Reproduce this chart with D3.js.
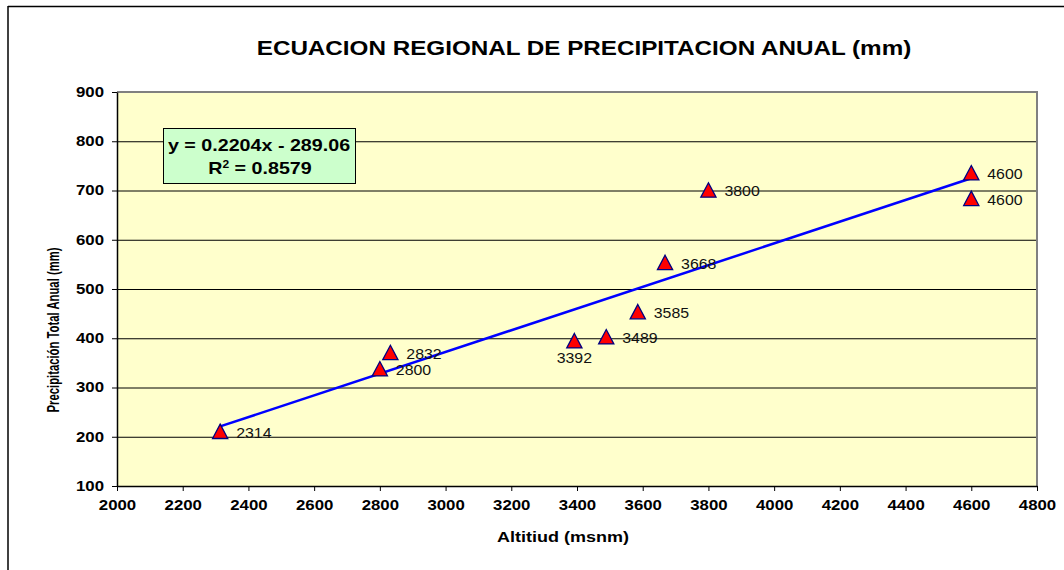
<!DOCTYPE html>
<html>
<head>
<meta charset="utf-8">
<script src="https://cdn.jsdelivr.net/npm/d3@7"></script>
<style>
  body { margin: 0; background: #fff; }
  svg { display: block; font-family: "Liberation Sans", Arial, sans-serif; }
</style>
</head>
<body>
<svg id="chart" width="1064" height="570"></svg>
<script>
// chart data
const altitudes = [2314, 2800, 2832, 3392, 3489, 3585, 3668, 3800, 4600, 4600];
const precipitation = [208, 335, 368, 392, 400, 451, 551, 698, 733, 681];
const xTicks = [2000, 2200, 2400, 2600, 2800, 3000, 3200, 3400, 3600, 3800, 4000, 4200, 4400, 4600, 4800];
const yTicks = [100, 200, 300, 400, 500, 600, 700, 800, 900];
const slope = 0.2204, intercept = -289.06, r2 = 0.8579;

const title = 'ECUACION REGIONAL DE PRECIPITACION ANUAL (mm)';
const xTitle = 'Altitiud (msnm)';
const yTitle = 'Precipitación Total Anual (mm)';

// the original picture is stretched sideways, so text gets widened too
const SX = 1.2;

const svg = d3.select('#chart');
const plot = {left: 117, right: 1037, top: 92, bottom: 486};

const x = d3.scaleLinear().domain([2000, 4800]).range([plot.left, plot.right]);
const y = d3.scaleLinear().domain([100, 900]).range([plot.bottom, plot.top]);

// outer frame (only top and left show)
svg.append('line').attr('x1', 8).attr('x2', 1064).attr('y1', 6.5).attr('y2', 6.5)
  .attr('stroke', '#000').attr('stroke-width', 1.5);
svg.append('line').attr('x1', 8).attr('x2', 8).attr('y1', 6).attr('y2', 570)
  .attr('stroke', '#000').attr('stroke-width', 1.5);

// plot background
svg.append('rect')
  .attr('x', plot.left).attr('y', plot.top)
  .attr('width', plot.right - plot.left).attr('height', plot.bottom - plot.top)
  .attr('fill', '#ffffcc');

// gridlines
svg.append('g').selectAll('line')
  .data(yTicks.filter(d => d > 100 && d < 900))
  .join('line')
  .attr('x1', plot.left).attr('x2', plot.right)
  .attr('y1', d => y(d) + 0.5).attr('y2', d => y(d) + 0.5)
  .attr('stroke', '#000').attr('stroke-width', 1);

// top and right border in grey
svg.append('path')
  .attr('d', `M${plot.left},${plot.top}H${plot.right}V${plot.bottom}`)
  .attr('fill', 'none').attr('stroke', '#808080').attr('stroke-width', 2);

// axes
const xAxis = svg.append('g')
  .attr('transform', `translate(0,${plot.bottom})`)
  .call(d3.axisBottom(x).tickValues(xTicks).tickFormat(d3.format('d')).tickSize(5).tickSizeOuter(0));
const yAxis = svg.append('g')
  .attr('transform', `translate(${plot.left},0)`)
  .call(d3.axisLeft(y).tickValues(yTicks).tickFormat(d3.format('d')).tickSize(5).tickSizeOuter(0));

[xAxis, yAxis].forEach(a => {
  a.select('.domain').attr('stroke', '#000').attr('stroke-width', 1.5);
  a.selectAll('.tick line').attr('stroke', '#000');
  a.selectAll('.tick text')
    .attr('fill', '#000')
    .style('font-family', '"Liberation Sans", Arial, sans-serif')
    .style('font-size', '14px')
    .style('font-weight', 'bold');
});
xAxis.selectAll('.tick text').attr('y', 14.5).attr('transform', `scale(${SX},1)`);
yAxis.selectAll('.tick text').attr('x', -13 / SX).attr('transform', `scale(${SX},1)`);

// titles
function stretchedText(px, py, str, size, weight, rotate) {
  return svg.append('text')
    .attr('transform', `translate(${px},${py}) scale(${SX},1)` + (rotate ? ` rotate(${rotate})` : ''))
    .attr('text-anchor', 'middle')
    .style('font-size', size + 'px')
    .style('font-weight', weight)
    .attr('fill', '#000')
    .text(str);
}
stretchedText(584, 54.5, title, 20.2, 'bold');
stretchedText(563, 542, xTitle, 15, 'bold');
stretchedText(59, 330, yTitle, 14, 'bold', -90)
  .attr('textLength', 165).attr('lengthAdjust', 'spacingAndGlyphs');

// trend line
const trendX = d3.extent(altitudes);
svg.append('line')
  .attr('x1', x(trendX[0])).attr('y1', y(slope * trendX[0] + intercept))
  .attr('x2', x(trendX[1])).attr('y2', y(slope * trendX[1] + intercept))
  .attr('stroke', '#0000ff').attr('stroke-width', 2.5);

// markers
const points = altitudes.map((a, i) => ({alt: a, p: precipitation[i]}));
const tri = 'M0,-8.7L7.6,5.7L-7.6,5.7Z';
svg.append('g').selectAll('path')
  .data(points)
  .join('path')
  .attr('d', tri)
  .attr('transform', d => `translate(${x(d.alt)},${y(d.p)})`)
  .attr('fill', '#ff0000')
  .attr('stroke', '#000080')
  .attr('stroke-width', 1.3);

// point labels (altitude)
svg.append('g').selectAll('text')
  .data(points)
  .join('text')
  .attr('transform', d => d.alt === 3392
    ? `translate(${x(d.alt)},${y(d.p) + 20.5}) scale(1.06,1)`
    : `translate(${x(d.alt) + 16},${y(d.p) + 5}) scale(1.06,1)`)
  .attr('text-anchor', d => d.alt === 3392 ? 'middle' : 'start')
  .style('font-size', '15px')
  .attr('fill', '#111')
  .text(d => d.alt);

// equation box
const eq = svg.append('g');
eq.append('rect')
  .attr('x', 163.5).attr('y', 128.5).attr('width', 192).attr('height', 55)
  .attr('fill', '#ccffcc').attr('stroke', '#000').attr('stroke-width', 1);
eq.append('text')
  .attr('transform', `translate(259,151) scale(${SX},1)`)
  .attr('text-anchor', 'middle')
  .style('font-size', '16.4px').style('font-weight', 'bold')
  .text(`y = ${slope}x - ${Math.abs(intercept).toFixed(2)}`);
const r2Text = eq.append('text')
  .attr('transform', `translate(260,173.5) scale(${SX},1)`)
  .attr('text-anchor', 'middle')
  .style('font-size', '16.4px').style('font-weight', 'bold');
r2Text.append('tspan').text('R');
r2Text.append('tspan').attr('dy', -6).style('font-size', '10px').text('2');
r2Text.append('tspan').attr('dy', 6).text(` = ${r2}`);
</script>
</body>
</html>
